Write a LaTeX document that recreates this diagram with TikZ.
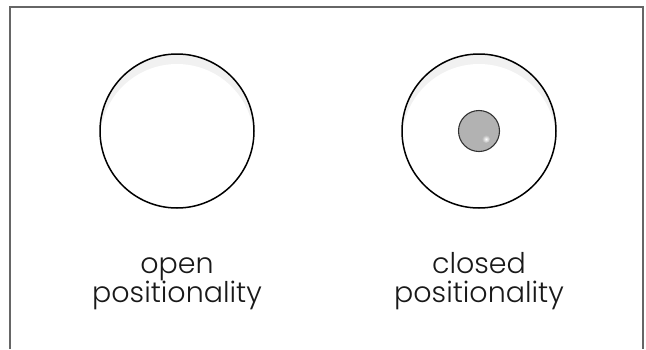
\documentclass[tikz,border=0pt]{standalone}
\usepackage{fontspec}
\setmainfont{Poppins}[UprightFont=* Light]
\tikzset{
  ring/.style={draw=black, line width=1.5pt},
  caption/.style={align=center, font=\fontsize{28.5}{29}\selectfont, text=black!90, inner sep=0pt},
}
\begin{document}
\begin{tikzpicture}[x=1pt,y=-1pt]
        \useasboundingbox (0,0) rectangle (646,349);
        % Marco
        \draw[gray!80!black, line width=1.2pt] (10,349) -- (10,7) -- (643,7) -- (643,349);

        % Circulo abierto
        \begin{scope}
          \clip (177,131) circle (77);
          \fill[gray!11] (177,131) circle (77);
          \fill[white] (177,141) circle (77);
        \end{scope}
        \draw[ring] (177,131) circle (77);

        % Circulo cerrado
        \begin{scope}
          \clip (479,131) circle (77);
          \fill[gray!11] (479,131) circle (77);
          \fill[white] (479,141) circle (77);
        \end{scope}
        \draw[ring] (479,131) circle (77);
        \fill[gray!60] (479,131) circle (20.5);
        \shade[inner color=white, outer color=gray!60] (486,139) circle (4);
        \draw[line width=1.1pt, black!80] (479,131) circle (20.5);

        % Etiquetas
        \node[caption, anchor=base] (open) at (177,302) {open\\positionality};
        \node[caption, anchor=base] (closed) at (479,302) {closed\\positionality};
\end{tikzpicture}
\end{document}
